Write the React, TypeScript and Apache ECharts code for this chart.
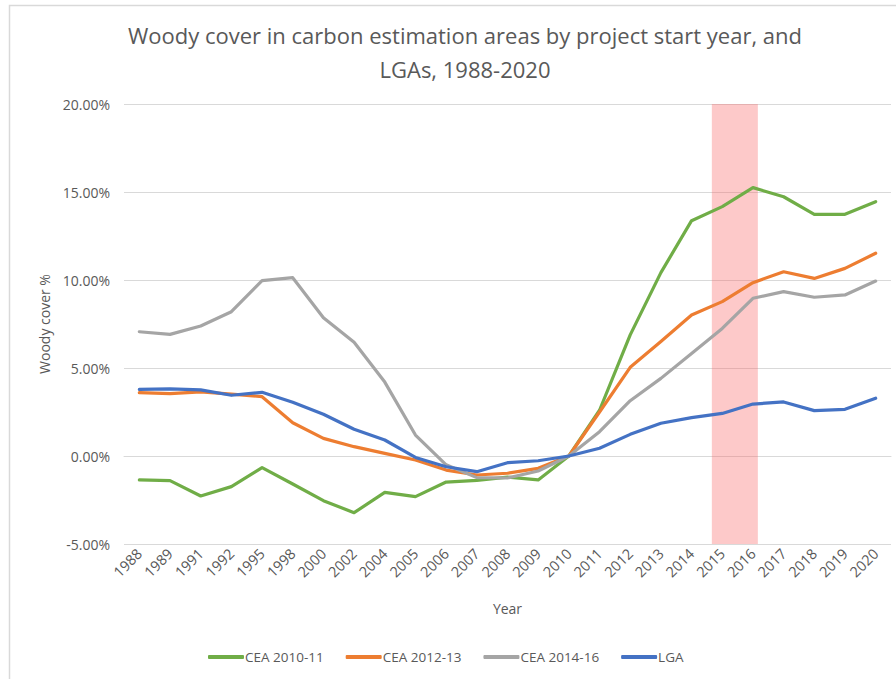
import React, { useEffect, useRef } from "react";
import * as echarts from "echarts";

const years = ["1988","1989","1991","1992","1995","1998","2000","2002","2004","2005","2006","2007","2008","2009","2010","2011","2012","2013","2014","2015","2016","2017","2018","2019","2020"];
const cea1011 = [-1.36,-1.40,-2.27,-1.74,-0.66,-1.59,-2.54,-3.22,-2.07,-2.31,-1.48,-1.38,-1.20,-1.36,0,2.6,6.88,10.42,13.37,14.17,15.25,14.73,13.73,13.73,14.45];
const cea1213 = [3.60,3.54,3.64,3.52,3.37,1.89,1.00,0.53,0.15,-0.23,-0.80,-1.08,-0.98,-0.70,0,2.5,5.04,6.50,8.01,8.77,9.85,10.47,10.09,10.66,11.52];
const cea1416 = [7.06,6.91,7.39,8.20,9.96,10.13,7.86,6.46,4.20,1.19,-0.50,-1.23,-1.25,-0.85,0,1.38,3.14,4.41,5.83,7.25,8.96,9.34,9.02,9.15,9.94];
const lga = [3.78,3.81,3.76,3.45,3.62,3.05,2.37,1.52,0.91,-0.08,-0.61,-0.89,-0.38,-0.27,0,0.44,1.23,1.86,2.18,2.42,2.95,3.07,2.58,2.65,3.28];
const seriesNames = ["CEA 2010-11", "CEA 2012-13", "CEA 2014-16", "LGA"];
const seriesColors = ["#70AD47", "#ED7D31", "#A5A5A5", "#4472C4"];
const bandRange = [19.16, 20.66]; // position of highlighted band (in category units from left edge)

const FONT = "'Open Sans', sans-serif";
const TXT = "#595959";

export default function App() {
  const ref = useRef<HTMLDivElement>(null);
  useEffect(() => {
    document.body.style.margin = "0";
    const chart = echarts.init(ref.current!, null, { renderer: "svg" });
    const datas = [cea1011, cea1213, cea1416, lga];
    chart.setOption({
      animation: false,
      backgroundColor: "#ffffff",
      title: {
        text: "Woody cover in carbon estimation areas by project start year, and\nLGAs, 1988-2020",
        left: 460,
        top: 13,
        textAlign: "center",
        textStyle: { fontFamily: FONT, fontSize: 22, fontWeight: "normal", color: TXT, lineHeight: 34 },
      },
      graphic: [
        {
          type: "rect",
          shape: { x: 9.5, y: 5.5, width: 1000, height: 1000 },
          style: { fill: "none", stroke: "#D9D9D9", lineWidth: 1.5 },
          silent: true,
        },
      ],
      legend: {
        bottom: 10,
        left: 203,
        data: seriesNames,
        icon: "roundRect",
        itemWidth: 36,
        itemHeight: 4,
        itemGap: 22,
        textStyle: { fontFamily: FONT, fontSize: 13.5, color: TXT, padding: [0, 0, 0, -4] },
      },
      grid: { left: 124, right: 5, top: 104, bottom: 135 },
      xAxis: [
        {
          type: "category",
          data: years,
          boundaryGap: true,
          name: "Year",
          nameLocation: "middle",
          nameGap: 57,
          nameTextStyle: { fontFamily: FONT, fontSize: 14, color: TXT },
          axisLine: { lineStyle: { color: "#D9D9D9" } },
          axisTick: { show: false },
          axisLabel: { rotate: 45, fontFamily: FONT, fontSize: 14.5, color: TXT, margin: 7, interval: 0 },
        },
        {
          type: "value",
          min: 0,
          max: 25,
          show: false,
        },
      ],
      yAxis: {
        type: "value",
        min: -5,
        max: 20,
        interval: 5,
        name: "Woody cover %",
        nameLocation: "middle",
        nameGap: 73,
        nameTextStyle: { fontFamily: FONT, fontSize: 14, color: TXT },
        axisLine: { show: false },
        axisTick: { show: false },
        axisLabel: {
          fontFamily: FONT,
          fontSize: 14,
          color: TXT,
          margin: 14,
          formatter: (v: number) => v.toFixed(2) + "%",
        },
        splitLine: { lineStyle: { color: "#D9D9D9", width: 1 } },
      },
      series: [
        ...datas.map((d, i) => ({
          name: seriesNames[i],
          type: "line",
          data: d,
          symbol: "none",
          z: 2,
          lineStyle: { color: seriesColors[i], width: 3.2, cap: "round", join: "round" },
          itemStyle: { color: seriesColors[i] },
        })),
        {
          name: "band",
          type: "line",
          xAxisIndex: 1,
          data: [],
          z: 5,
          silent: true,
          markArea: {
            silent: true,
            itemStyle: { color: "rgba(250,100,100,0.35)" },
            data: [[{ xAxis: bandRange[0] }, { xAxis: bandRange[1] }]],
          },
        },
      ],
    });
    return () => chart.dispose();
  }, []);
  return <div ref={ref} style={{ width: 896, height: 679 }} />;
}
